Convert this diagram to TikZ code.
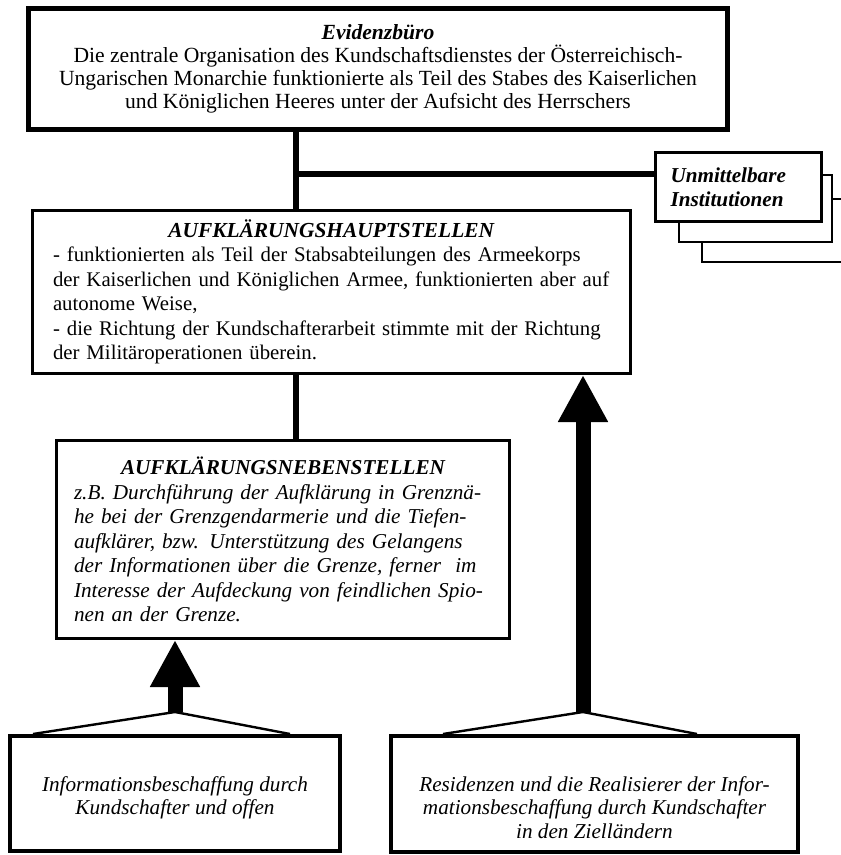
\documentclass[tikz,border=0pt]{standalone}
\usepackage{fontspec}
\setmainfont{Liberation Serif}
\usetikzlibrary{arrows.meta}

% justified and left set lines of a given width
\newcommand{\jline}[2]{\makebox[#1][s]{#2}}
\newcommand{\lline}[2]{\makebox[#1][l]{#2}}

\begin{document}
\begin{tikzpicture}[x=0.5pt,y=-0.5pt]
    \tikzstyle{box}=[draw, fill=white, align=center, inner sep=0pt,
                            font=\fontsize{10.6}{11.8}\selectfont]
    \tikzstyle{conn}=[line width=3pt]
    \tikzstyle{fan}=[line width=1.2pt, line join=miter]
    \tikzstyle{bigarrow}=[line width=7.5pt,
                            -{Triangle[length=23.5pt,width=23.5pt]}]
    \useasboundingbox[fill=white] (0,0) rectangle (840,855);

    % stacked boxes behind the front one
    \node[box, line width=1pt, minimum width=84pt, minimum height=31.5pt] (unmc) at (786,230.5) {};
    \node[box, line width=1pt, minimum width=76.5pt, minimum height=33.5pt] (unmb) at (755.5,208.5) {};
    \node[box, line width=1.5pt, minimum width=83pt, minimum height=34.5pt,
          text width=68pt, inner xsep=7.5pt, align=left] (unm) at (738.5,187)
          {\textbf{\textit{Unmittelbare}}\\ \textbf{\textit{Institutionen}}};

    \node[box, line width=2.5pt, minimum width=349.5pt, minimum height=60.5pt,
          font=\fontsize{10.8}{11.6}\selectfont] (evid) at (378,69)
          {\textbf{\textit{Evidenzbüro}}\\
           Die zentrale Organisation des Kundschaftsdienstes der Österreichisch-\\
           Ungarischen Monarchie funktionierte als Teil des Stabes des Kaiserlichen\\
           und Königlichen Heeres unter der Aufsicht des Herrschers};

    \node[box, line width=1.5pt, minimum width=299pt, minimum height=81.5pt,
          text width=278.5pt, font=\fontsize{10.4}{12.25}\selectfont] (haupt) at (331.5,292)
          {\textbf{\textit{\fontsize{10.7}{12.25}\selectfont AUFKLÄRUNGSHAUPTSTELLEN}}\\
           \jline{278.5pt}{- funktionierten als Teil der Stabsabteilungen des Armeekorps}\\
           \jline{278.5pt}{der Kaiserlichen und Königlichen Armee, funktionierten aber auf}\\
           \lline{278.5pt}{autonome Weise,}\\
           \jline{278.5pt}{- die Richtung der Kundschafterarbeit stimmte mit der Richtung}\\
           \lline{278.5pt}{der Militäroperationen überein.}};

    \node[box, line width=1.5pt, minimum width=226.5pt, minimum height=99pt,
          text width=209pt, font=\fontsize{10.6}{12.25}\selectfont\itshape] (neben) at (283,539.5)
          {\textbf{AUFKLÄRUNGSNEBENSTELLEN}\\
           \jline{209pt}{z.B. Durchführung der Aufklärung in Grenznä-}\\
           \jline{209pt}{he bei der Grenzgendarmerie und die Tiefen-}\\
           \jline{209pt}{aufklärer, bzw. Unterstützung des Gelangens}\\
           \jline{209pt}{der Informationen über die Grenze, ferner\ \ im}\\
           \jline{209pt}{Interesse der Aufdeckung von feindlichen Spio-}\\
           \lline{209pt}{nen an der Grenze.}};

    \node[box, line width=2pt, minimum width=165pt, minimum height=57.5pt,
          font=\fontsize{10.6}{11.6}\selectfont\itshape] (besch) at (175,793.5)
          {\rule{0pt}{12pt}Informationsbeschaffung durch\\ Kundschafter und offen};
    \node[box, line width=2pt, minimum width=203.5pt, minimum height=58pt,
          font=\fontsize{10.6}{11.8}\selectfont\itshape] (resid) at (594.5,794)
          {\rule{0pt}{21pt}Residenzen und die Realisierer der Infor-\\
           mationsbeschaffung durch Kundschafter\\ in den Zielländern};

    % thick line of command
    \coordinate (j) at (296,174);
    \draw[conn] (evid.south -| j) -- (haupt.north -| j);
    \draw[conn] (j) -- (j -| unm.west);
    \draw[conn] (haupt.south -| j) -- (neben.north -| j);

    % reports flowing upwards
    \coordinate (f1) at (175,712);
    \coordinate (f1l) at (33,734);
    \coordinate (f1r) at (290,734);
    \coordinate (f2) at (583,712);
    \coordinate (f2l) at (443,734);
    \coordinate (f2r) at (697,734);
    \draw[fan] (f1l) -- (f1) -- (f1r);
    \draw[fan] (f2l) -- (f2) -- (f2r);
    \draw[bigarrow] (f1) -- (f1 |- neben.south);
    \draw[bigarrow] (f2) -- (f2 |- haupt.south);
\end{tikzpicture}
\end{document}
